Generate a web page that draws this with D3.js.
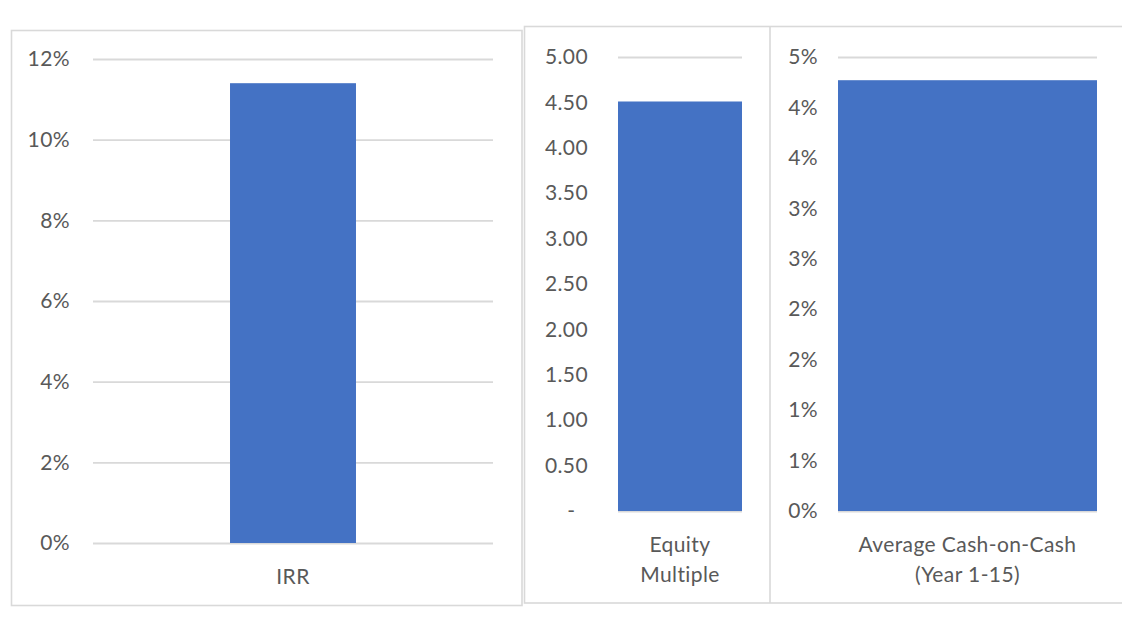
<!DOCTYPE html>
<html>
<head>
<meta charset="utf-8">
<script src="https://cdn.jsdelivr.net/npm/d3@7"></script>
<style>
  html, body { margin: 0; padding: 0; background: #ffffff; }
  svg { display: block; }
  text { font-family: Lato, "Open Sans", sans-serif; fill: #595959; letter-spacing: 0.4px; }
</style>
</head>
<body>
<svg id="chart" width="1122" height="623"></svg>
<script>
// ---------- DATA ----------
const irrCategories = ["IRR"];
const irrValues = [0.114];
const irrTicks = [0, 0.02, 0.04, 0.06, 0.08, 0.10, 0.12];
const irrTickLabels = ["0%", "2%", "4%", "6%", "8%", "10%", "12%"];

const emCategories = ["Equity\nMultiple"];
const emValues = [4.51];
const emTicks = [0, 0.5, 1.0, 1.5, 2.0, 2.5, 3.0, 3.5, 4.0, 4.5, 5.0];
const emTickLabels = ["-\u2007", "0.50", "1.00", "1.50", "2.00", "2.50", "3.00", "3.50", "4.00", "4.50", "5.00"];

const cocCategories = ["Average Cash-on-Cash\n(Year 1-15)"];
const cocValues = [0.0427];
const cocTicks = [0, 0.005, 0.010, 0.015, 0.020, 0.025, 0.030, 0.035, 0.040, 0.045];
const cocTickLabels = ["0%", "1%", "1%", "2%", "2%", "3%", "3%", "4%", "4%", "5%"];

// ---------- DRAW ----------
const svg = d3.select("#chart");
const FONT = 21;
const BAR = "#4472c4";
const GRID = "#d9d9d9";

// panel frames
svg.append("rect").attr("x", 11.5).attr("y", 30.5).attr("width", 510.5).attr("height", 575)
  .attr("fill", "none").attr("stroke", GRID).attr("stroke-width", 1.6);
svg.append("rect").attr("x", 524.5).attr("y", 26.5).attr("width", 620).attr("height", 576.5)
  .attr("fill", "none").attr("stroke", GRID).attr("stroke-width", 1.6);
svg.append("line").attr("x1", 770).attr("x2", 770).attr("y1", 26.5).attr("y2", 603)
  .attr("stroke", GRID).attr("stroke-width", 1.6);

function panel(cfg) {
  const g = svg.append("g");
  const x = d3.scaleBand().domain(cfg.categories).range([cfg.x0, cfg.x1])
    .paddingInner(cfg.pad).paddingOuter(cfg.pad);
  const y = d3.scaleLinear().domain([0, cfg.max]).range([cfg.yBottom, cfg.yTop]);

  // gridlines + tick labels
  const yAxis = d3.axisLeft(y).tickValues(cfg.ticks)
    .tickSize(-(cfg.x1 - cfg.x0)).tickPadding(cfg.labelGap)
    .tickFormat((d, i) => cfg.tickLabels[i]);
  const ag = g.append("g").attr("transform", `translate(${cfg.x0},0)`).call(yAxis);
  ag.select(".domain").remove();
  ag.selectAll(".tick line").attr("stroke", GRID).attr("stroke-width", 1.8);
  ag.selectAll(".tick text").attr("font-size", FONT).attr("fill", "#595959")
    .style("white-space", "pre")
    .attr("font-family", "Lato, 'Open Sans', sans-serif");

  // bars
  g.selectAll("rect.bar").data(cfg.values).join("rect").attr("class", "bar")
    .attr("x", (d, i) => x(cfg.categories[i]))
    .attr("width", x.bandwidth())
    .attr("y", d => y(d))
    .attr("height", d => y(0) - y(d))
    .attr("fill", BAR);

  // category labels
  cfg.categories.forEach(c => {
    const lines = c.split("\n");
    const t = g.append("text").attr("text-anchor", "middle").attr("font-size", FONT)
      .attr("x", x(c) + x.bandwidth() / 2);
    lines.forEach((ln, k) => {
      t.append("tspan").attr("x", x(c) + x.bandwidth() / 2)
        .attr("y", cfg.yBottom + 41 + k * 30).text(ln);
    });
  });
}

panel({ categories: irrCategories, values: irrValues, ticks: irrTicks, tickLabels: irrTickLabels,
  max: 0.12, x0: 93, x1: 493, yTop: 59, yBottom: 543, pad: 0.521, labelGap: 23 });
panel({ categories: emCategories, values: emValues, ticks: emTicks, tickLabels: emTickLabels,
  max: 5.0, x0: 618, x1: 742, yTop: 57, yBottom: 511, pad: 0, labelGap: 30 });
panel({ categories: cocCategories, values: cocValues, ticks: cocTicks, tickLabels: cocTickLabels,
  max: 0.045, x0: 838, x1: 1097, yTop: 57, yBottom: 511, pad: 0, labelGap: 20 });
</script>
</body>
</html>
